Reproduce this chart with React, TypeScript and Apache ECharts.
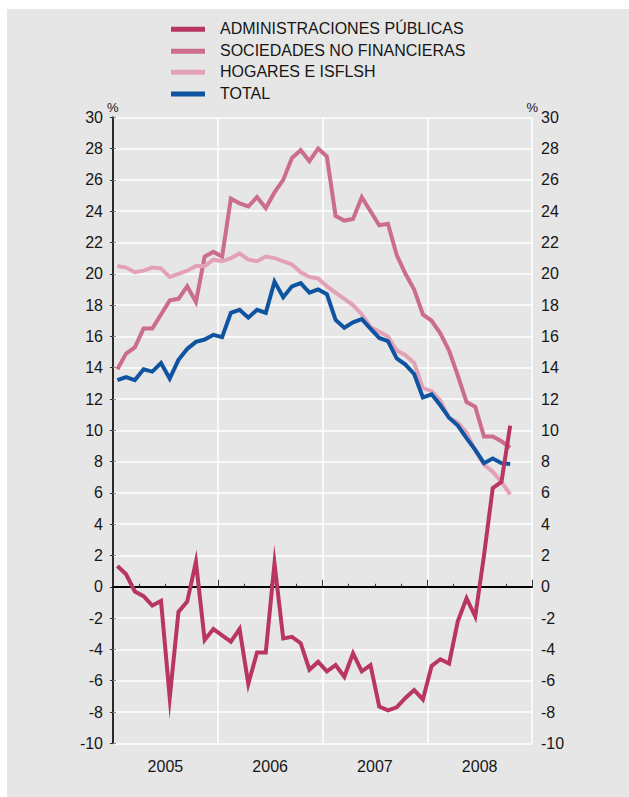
import { useEffect, useRef } from "react";
import * as echarts from "echarts";

const yearLabels = ["2005", "2006", "2007", "2008"];
const seriesNames = [
  "ADMINISTRACIONES PÚBLICAS",
  "SOCIEDADES NO FINANCIERAS",
  "HOGARES E ISFLSH",
  "TOTAL",
];
// Monthly values, January 2005 – October 2008
const administraciones = [
  1.33, 0.8, -0.3, -0.6, -1.2, -0.9, -7.1, -1.6, -0.95, 1.6, -3.4, -2.7,
  -3.1, -3.5, -2.7, -6.2, -4.2, -4.2, 1.5, -3.3, -3.2, -3.6, -5.3, -4.8,
  -5.4, -5.0, -5.75, -4.25, -5.4, -5.0, -7.66, -7.9, -7.7, -7.1, -6.6, -7.2,
  -5.06, -4.63, -4.9, -2.2, -0.73, -1.9, 2.0, 6.3, 6.7, 10.3,
];
const sociedades = [
  13.9, 14.9, 15.3, 16.5, 16.5, 17.4, 18.3, 18.4, 19.2, 18.2, 21.1, 21.4,
  21.1, 24.8, 24.5, 24.3, 24.9, 24.2, 25.2, 26.0, 27.4, 27.9, 27.2, 28.0,
  27.5, 23.7, 23.4, 23.5, 24.9, 24.0, 23.1, 23.2, 21.2, 20.0, 19.0, 17.4,
  17.0, 16.2, 15.1, 13.5, 11.8, 11.5, 9.6, 9.6, 9.3, 8.9,
];
const hogares = [
  20.5, 20.4, 20.1, 20.2, 20.4, 20.35, 19.8, 20.0, 20.2, 20.5, 20.5, 20.9,
  20.8, 21.0, 21.3, 20.9, 20.8, 21.1, 21.0, 20.8, 20.6, 20.1, 19.8, 19.7,
  19.2, 18.8, 18.4, 18.0, 17.4, 16.6, 16.3, 16.0, 15.1, 14.8, 14.3, 12.7,
  12.5, 11.9, 10.8, 10.5, 9.85, 8.7, 7.8, 7.35, 6.7, 5.9,
];
const total = [
  13.2, 13.4, 13.2, 13.9, 13.75, 14.3, 13.3, 14.5, 15.2, 15.65, 15.8, 16.1,
  15.95, 17.5, 17.7, 17.2, 17.7, 17.5, 19.5, 18.5, 19.2, 19.4, 18.8, 19.0,
  18.7, 17.05, 16.55, 16.9, 17.1, 16.5, 15.9, 15.7, 14.6, 14.2, 13.6, 12.1,
  12.3, 11.6, 10.8, 10.3, 9.5, 8.75, 7.9, 8.2, 7.9, 7.85,
];
const colors = ["#b8365f", "#cc6d8b", "#e3a1b6", "#0f54a0"];

const FONT = "'Liberation Sans', Arial, sans-serif";
const TEXT = "#161616";

const toPoints = (arr: number[]) => arr.map((v, i) => [i + 0.5, v]);

export default function App() {
  const ref = useRef<HTMLDivElement>(null);
  useEffect(() => {
    if (!ref.current) return;
    const chart = echarts.init(ref.current, null, { renderer: "svg" });
    const data = [administraciones, sociedades, hogares, total];
    const order = [1, 2, 3, 0];
    const legendRows = [20.3, 42.3, 63.3, 85];
    const graphics: any[] = [];
    seriesNames.forEach((name, k) => {
      graphics.push({
        type: "rect",
        left: 164,
        top: legendRows[k] - 2.5,
        shape: { width: 34, height: 5 },
        style: { fill: colors[k] },
      });
      graphics.push({
        type: "text",
        left: 213,
        top: legendRows[k] - 9,
        style: { text: name, font: `16px ${FONT}`, fill: TEXT },
      });
    });
    graphics.push({
      type: "text",
      left: 100,
      top: 92,
      style: { text: "%", font: `13px ${FONT}`, fill: TEXT },
    });
    graphics.push({
      type: "text",
      left: 519.5,
      top: 92,
      style: { text: "%", font: `13px ${FONT}`, fill: TEXT },
    });

    const xBase = { type: "value", min: 0, max: 48, gridIndex: 0, position: "bottom" };
    chart.setOption({
      animation: false,
      backgroundColor: "#e6e6e6",
      textStyle: { fontFamily: FONT },
      grid: { left: 106, top: 108.3, width: 419, height: 626 },
      graphic: graphics,
      xAxis: [
        {
          ...xBase,
          interval: 3,
          axisLine: { show: true, lineStyle: { color: "#000", width: 2 } },
          axisTick: { show: true, inside: true, length: 3, lineStyle: { color: "#333", width: 1 } },
          axisLabel: { show: false },
          splitLine: { show: false },
        },
        {
          ...xBase,
          interval: 12,
          axisLine: { show: false },
          axisTick: { show: true, inside: true, length: 7, lineStyle: { color: "#333", width: 1 } },
          axisLabel: { show: false },
          splitLine: { show: true, lineStyle: { color: "#ffffff", width: 1.5 } },
        },
        {
          ...xBase,
          interval: 6,
          axisLine: { show: false },
          axisTick: { show: false },
          splitLine: { show: false },
          axisLabel: {
            show: true,
            margin: 15,
            fontSize: 16,
            color: TEXT,
            fontFamily: FONT,
            formatter: (v: number) =>
              (v - 6) % 12 === 0 && v >= 6 ? yearLabels[(v - 6) / 12] : "",
          },
        },
      ],
      yAxis: [
        {
          type: "value",
          position: "left",
          min: -10,
          max: 30,
          interval: 2,
          axisLine: { show: true, lineStyle: { color: "#7a7a7a", width: 2 } },
          axisTick: { show: true, inside: true, length: 3, lineStyle: { color: "#888" } },
          axisLabel: { fontSize: 16, color: TEXT, margin: 10, fontFamily: FONT },
          splitLine: { show: true, lineStyle: { color: "#ffffff", width: 1.5 } },
        },
        {
          type: "value",
          position: "right",
          min: -10,
          max: 30,
          interval: 2,
          axisLine: { show: true, lineStyle: { color: "#111", width: 1.5 } },
          axisTick: { show: true, inside: true, length: 3, lineStyle: { color: "#333" } },
          axisLabel: { fontSize: 16, color: TEXT, margin: 9, fontFamily: FONT },
          splitLine: { show: false },
        },
      ],
      series: order.map((k, j) => ({
        type: "line",
        name: seriesNames[k],
        xAxisIndex: 0,
        yAxisIndex: 0,
        data: toPoints(data[k]),
        symbol: "none",
        z: 2 + j,
        lineStyle: {
          color: colors[k],
          width: 4,
          join: "miter",
          miterLimit: 40,
          cap: "butt",
        },
        markLine:
          j === 0
            ? {
                silent: true,
                symbol: ["none", "none"],
                label: { show: false },
                lineStyle: { color: "#000", width: 1, type: "solid" },
                data: [{ yAxis: 0 }],
              }
            : undefined,
      })),
    });
    return () => chart.dispose();
  }, []);
  return (
    <div
      ref={ref}
      style={{ position: "fixed", left: 7, top: 9, width: 622, height: 788 }}
    />
  );
}
